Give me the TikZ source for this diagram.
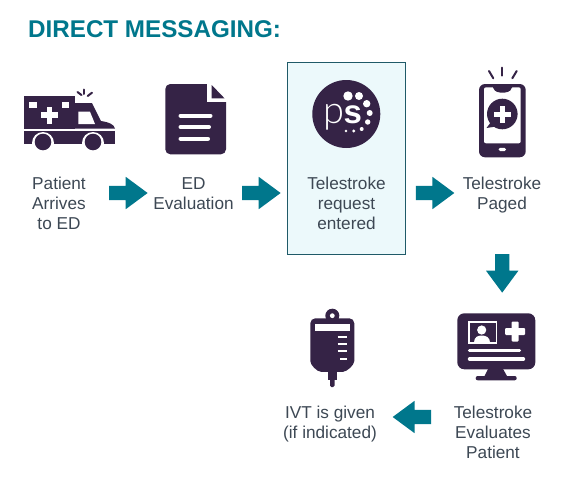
\documentclass[tikz,border=0pt]{standalone}
\usepackage{fontspec}
\setmainfont{Liberation Sans}
\newfontfamily\lightfont{Lato Light}
\usetikzlibrary{shapes.arrows}
\definecolor{tealc}{HTML}{00778C}
\definecolor{plum}{HTML}{352346}
\definecolor{txtc}{HTML}{3D4854}
\definecolor{boxfill}{HTML}{ECF9FB}
\definecolor{boxedge}{HTML}{1F5A68}
\tikzset{
  x=1pt,y=-1pt,
  lbl/.style={font=\fontsize{17.2}{20}\selectfont,text=txtc,align=center,inner sep=0pt},
  blockarrow/.style={single arrow,fill=tealc,draw=none,inner sep=0pt,outer sep=0pt,
    minimum height=38.5pt,single arrow head extend=9pt,single arrow tip angle=73},
  icon/.style={fill=plum,draw=none},
  cutout/.style={fill=white,draw=none},
  ray/.style={draw=plum,line width=2pt,line cap=round},
  bar/.style={draw=white,line width=4pt,line cap=round}
}
\newcommand{\shaftrule}{\rule{0pt}{14pt}}
\begin{document}
\begin{tikzpicture}
\useasboundingbox (0,0) rectangle (571,482);
\fill[white] (0,0) rectangle (571,482);
% title
\node[anchor=base west,inner sep=0pt,font=\fontsize{24.2}{26}\selectfont\bfseries,text=tealc] (title) at (28,37) {DIRECT MESSAGING:};
% highlighted box
\draw[fill=boxfill,draw=boxedge,line width=0.9pt] (287.5,62) rectangle (405.5,254);
% ambulance
\fill[icon] (23.5,96) -- (75,96) -- (75,128.5) -- (23.5,128.5) -- cycle;
\fill[icon] (75,103) -- (92,103) -- (101,121) .. controls (108,122) and (114,124) .. (115,128.5) -- (75,128.5) -- cycle;
\fill[icon] (78,103) arc[start angle=180,end angle=0,x radius=6,y radius=6.5] -- cycle;
\fill[icon] (23.5,131) rectangle (115,144);
\fill[cutout] (43,143) circle (11);
\fill[cutout] (93,143) circle (11);
\fill[cutout] (20,144) rectangle (118,148);
\fill[icon] (43,142) circle (8.3);
\fill[icon] (93,142) circle (8.3);
\fill[cutout] (29.3,102.3) rectangle (37.3,108.3);
\fill[cutout] (61.7,102.3) rectangle (69.3,108.3);
\fill[cutout] (46.7,106.5) rectangle (52,123.5);
\fill[cutout] (41,112.3) rectangle (58,117.7);
\fill[cutout] (78.3,111.7) -- (90,111.7) -- (95,124) -- (78.3,124) -- cycle;
\draw[ray] (77.5,92) -- (81.5,95);
\draw[ray] (84.3,89.5) -- (84.3,94);
\draw[ray] (92,92.7) -- (87.7,96);
% document
\fill[icon,rounded corners=5pt] (165.3,84) rectangle (226,154.3);
\fill[cutout] (207.3,82) rectangle (228,101.7);
\fill[icon] (211.7,85) -- (224.5,98.3) -- (211.7,98.3) -- cycle;
\draw[bar] (180.5,115.7) -- (210.5,115.7);
\draw[bar] (180.5,127) -- (209,127);
\draw[bar] (180.5,138.7) -- (208,138.7);
% logo
\fill[icon] (346.3,114) circle (34);
\node[anchor=base west,inner sep=0pt,text=white,font=\lightfont\fontsize{38}{38}\selectfont] (logop) at (323.5,123.3) {p};
\node[anchor=base west,inner sep=0pt,text=white,font=\fontsize{33}{33}\selectfont\bfseries] (logos) at (343.5,123.3) {s};
\foreach \px/\py/\pr in {348/96/4.7,359/96/4,366.7/103.7/3.7,369.7/113/3,367.7/122/2.7,361.7/129/2,353.7/131/1.7,346/131/1.3}
  \fill[white] (\px,\py) circle (\pr);
% phone
\fill[icon,rounded corners=6pt] (479,84) rectangle (525.7,157.3);
\fill[cutout,rounded corners=2pt] (484,87.3) rectangle (520.7,143.3);
\fill[icon,rounded corners=3pt] (493,85) -- (512,85) -- (512,89) -- (508,92.5) -- (497,92.5) -- (493,89) -- cycle;
\fill[icon] (502.3,114) circle (15.3);
\fill[icon] (491,122) -- (486.5,128) -- (496,126.5) -- cycle;
\fill[cutout] (499.8,105.5) rectangle (504.8,122.5);
\fill[cutout] (494,111.5) rectangle (510.7,116.5);
\fill[cutout,rounded corners=1.5pt] (498.6,147.8) rectangle (506,151);
\draw[ray] (489,71) -- (493.3,78.3);
\draw[ray] (502.3,67.7) -- (502.3,75.7);
\draw[ray] (516.7,71) -- (512.3,78.3);
% monitor
\fill[icon,rounded corners=7pt] (457.3,313.3) rectangle (535.3,369.3);
\fill[icon] (488.5,368) -- (502.5,368) -- (507.5,377) -- (484,377) -- cycle;
\fill[icon,rounded corners=2pt] (475.7,376) rectangle (516.7,380.3);
\draw[white,line width=1.4pt] (469,322) rectangle (496.5,343);
\fill[white] (481.7,330) circle (4.6);
\fill[white] (474,342.5) .. controls (474,337) and (478,335.5) .. (481.7,335.5) .. controls (485.5,335.5) and (490,337) .. (490,342.5) -- cycle;
\fill[cutout,rounded corners=1pt] (511.5,321.5) rectangle (518.5,341.5);
\fill[cutout,rounded corners=1pt] (505,328) rectangle (525,335);
\draw[white,line width=3.4pt,line cap=round] (469.5,350.3) -- (519.5,350.3);
\draw[white,line width=3.4pt,line cap=round] (469.5,359) -- (523.5,359);
% IV bag
\fill[icon] (332.3,315.7) circle (7);
\fill[icon,rounded corners=5pt] (310.3,318.3) -- (354.3,318.3) -- (354.3,356) .. controls (354.3,365) and (347,371.7) .. (338,372) -- (326,372) .. controls (317,371.7) and (310.3,365) .. (310.3,356) -- cycle;
\fill[cutout] (332.3,315.7) circle (2.4);
\fill[icon] (328,370) rectangle (336.5,380);
\fill[icon,rounded corners=1.5pt] (330,376) rectangle (334.5,387);
\fill[cutout] (315,323.7) rectangle (349.7,330.7);
\draw[white,line width=2pt] (337.7,336.7) -- (347,336.7);
\draw[white,line width=2pt] (337.7,344) -- (347,344);
\draw[white,line width=2pt] (337.7,351.3) -- (347,351.3);
\draw[white,line width=2pt] (340,358.7) -- (347,358.7);
% arrows
\node[blockarrow] (a1) at (123.5,193) {\shaftrule};
\node[blockarrow] (a2) at (256.5,193) {\shaftrule};
\node[blockarrow] (a3) at (430.2,193) {\shaftrule};
\node[blockarrow,rotate=-90] (a4) at (502.2,268.5) {\shaftrule};
\node[blockarrow,rotate=180] (a5) at (416.8,417) {\shaftrule};
% labels
\node[lbl] (patient) at (59,203.5) {Patient\\Arrives\\to ED};
\node[lbl] (ed) at (193.5,193.5) {ED\\Evaluation};
\node[lbl] (request) at (346.5,203.5) {Telestroke\\request\\entered};
\node[lbl] (paged) at (502,195.5) {Telestroke\\Paged};
\node[lbl] (evaluates) at (493,432.5) {Telestroke\\Evaluates\\Patient};
\node[lbl] (ivt) at (330,424.5) {IVT is given\\(if indicated)};
\end{tikzpicture}
\end{document}
